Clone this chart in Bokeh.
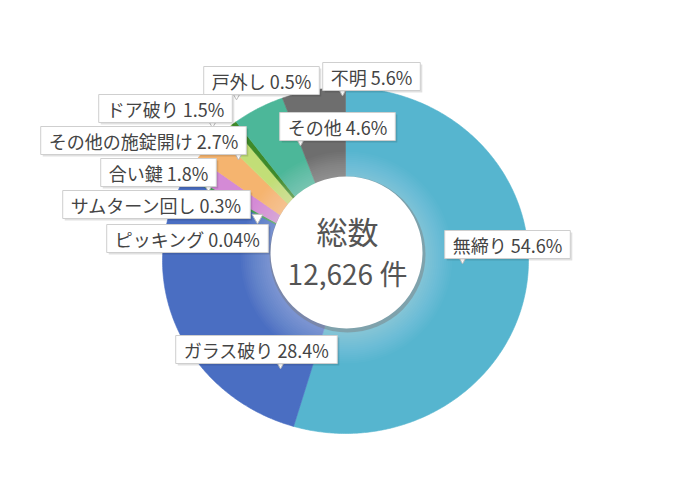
import numpy as np
from bokeh.plotting import figure
from bokeh.models import Range1d, ColumnDataSource
from bokeh.core.properties import value
from bokeh.embed import file_html
from bokeh.resources import INLINE

# ---- data ----
categories = ["無締り", "ガラス破り", "ピッキング", "サムターン回し", "合い鍵",
              "その他の施錠開け", "ドア破り", "戸外し", "その他", "不明"]
shares = [54.6, 28.4, 0.04, 0.3, 1.8, 2.7, 1.5, 0.5, 4.6, 5.6]
share_labels = ["54.6%", "28.4%", "0.04%", "0.3%", "1.8%", "2.7%", "1.5%", "0.5%", "4.6%", "5.6%"]
total_title = "総数"
total_count = 12626

# ---- styles / layout ----
colors = ["#56b5cf", "#4a6ec2", "#3b63b8", "#3f9e4f", "#d48ad6",
          "#f5b46f", "#c2de77", "#3f8a2a", "#4cb799", "#6e6e6e"]
label_x = [507, 256, 187, 156, 158, 143, 165, 261, 337, 371]
label_y = [244, 349, 238, 204, 172, 140, 108, 80, 126, 76]
pointer_x = [462, 280, None, 257, 208, 238, 212, 236, 300, 342]

W, H = 684, 484
cx, cy, rx, ry = 345, 260, 183, 173
inner_cx, inner_cy, inner_r = 346, 252, 76

p = figure(width=W, height=H, output_backend="svg", toolbar_location=None,
           x_range=Range1d(0, W), y_range=Range1d(H, 0), min_border=0)
p.axis.visible = False
p.grid.visible = False
p.outline_line_color = None
p.background_fill_color = "white"
p.border_fill_color = "white"

# ---- wedges (elliptical, clockwise from 12 o'clock) ----
fr = np.array(shares) / np.sum(shares)
ends = np.cumsum(fr) * 2 * np.pi
starts = ends - fr * 2 * np.pi
xs, ys = [], []
for a0, a1 in zip(starts, ends):
    n = max(2, int(np.ceil((a1 - a0) / 0.01)))
    t = np.linspace(a0, a1, n)
    xs.append(np.concatenate([[cx], cx + rx * np.sin(t)]))
    ys.append(np.concatenate([[cy], cy - ry * np.cos(t)]))
src = ColumnDataSource(dict(xs=xs, ys=ys, color=colors, name=categories))
p.patches("xs", "ys", source=src, fill_color="color", line_color="color", line_width=0.6)

# soft glow around the hole
glow_r = inner_r + np.arange(30, 0, -2)
p.circle(x=inner_cx, y=inner_cy + 5, radius=glow_r, fill_color="white",
         fill_alpha=0.022, line_color=None)
# hole shadow + hole
p.circle(x=inner_cx + 1, y=inner_cy + 2, radius=inner_r + 2, fill_color="#7a7a7a",
         fill_alpha=0.45, line_color=None)
p.circle(x=inner_cx, y=inner_cy, radius=inner_r, fill_color="white", line_color=None)

# centre texts
font = value("Noto Sans CJK JP")
p.text(x=[inner_cx + 1], y=[inner_cy - 22], text=[total_title], text_font=font,
       text_font_size="31px", text_color="#555555", text_align="center",
       text_baseline="middle")
p.text(x=[inner_cx + 1], y=[inner_cy + 20], text=[f"{total_count:,} 件"], text_font=font,
       text_font_size="28px", text_color="#555555", text_align="center",
       text_baseline="middle")

# ---- callout labels ----
lbl = [f"{c} {s}" for c, s in zip(categories, share_labels)]
px = [x for x in pointer_x if x is not None]
py = [label_y[i] + 13 for i, x in enumerate(pointer_x) if x is not None]
p.scatter(x=px, y=py, marker="inverted_triangle", size=11, fill_color="white",
          line_color="#bbbbbb", line_width=1)
lsrc = ColumnDataSource(dict(x=label_x, y=label_y, text=lbl))
pad = dict(left=8, right=8, top=1, bottom=1)
# shadow
p.text(x="x", y="y", text="text", source=lsrc, text_font=font, text_font_size="18px",
       text_alpha=0, text_align="center", text_baseline="middle", x_offset=2, y_offset=2,
       padding=pad, background_fill_color="#000000", background_fill_alpha=0.12)
p.text(x="x", y="y", text="text", source=lsrc, text_font=font, text_font_size="18px",
       text_color="#444444", text_align="center", text_baseline="middle",
       padding=pad, background_fill_color="white", border_line_color="#cfcfcf",
       border_line_width=1)

open("out.html", "w").write(file_html(p, INLINE))
